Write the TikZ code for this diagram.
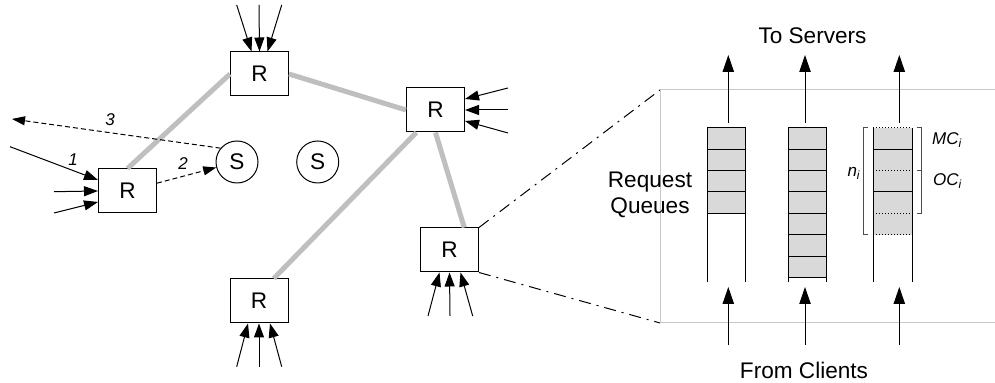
\documentclass[tikz,border=0pt]{standalone}
\usepackage{fontspec}
\setmainfont{Liberation Sans}
\usetikzlibrary{arrows.meta,calc}

\definecolor{linkgray}{gray}{0.75}
\definecolor{cellgray}{gray}{0.85}
\definecolor{boxgray}{gray}{0.78}

\tikzset{
  router/.style={draw,line width=0.5pt,fill=white,minimum width=29pt,minimum height=22pt,inner sep=0pt},
  server/.style={draw,line width=0.5pt,circle,minimum size=21pt,inner sep=0pt},
  feed/.style={line width=0.5pt,-{Triangle[length=7pt,width=5pt]}},
  link/.style={line width=2.5pt,linkgray},
  msg/.style={line width=0.5pt,dash pattern=on 2.5pt off 1.5pt,-{Triangle[length=6.5pt,width=4.5pt]}},
  zoomline/.style={line width=0.5pt,dash pattern=on 6pt off 3pt on 1pt off 3pt},
  flow/.style={line width=0.5pt,-{Triangle[length=8.5pt,width=5.7pt]}},
  steplabel/.style={font=\fontsize{8.5}{10}\selectfont\itshape},
  qlabel/.style={font=\fontsize{8.5}{10}\selectfont\itshape,inner sep=0pt},
}

\begin{document}
\begin{tikzpicture}[x=5pt,y=5pt,font=\fontsize{11.3}{13.3}\selectfont]
    \useasboundingbox (0,0) rectangle (99.5,38.3);

    % Left part: routers and servers
    \node[router] (leftR) at (12.75,19.2) {R};
    \node[router] (topR) at (25.95,30.9) {R};
    \node[router] (rtR) at (43.55,27.3) {R};
    \node[router] (blR) at (25.9,8.2) {R};
    \node[router] (rR) at (44.95,13.3) {R};
    \node[server] (S1) at (23.7,22.1) {S};
    \node[server] (S2) at (31.77,22.1) {S};

    \draw[link] (leftR.north) -- (topR.west);
    \draw[link] (topR.east) -- (rtR.west);
    \draw[link] ($(rtR.south west)!0.35!(rtR.south)$) -- ($(blR.north)!0.5!(blR.north east)$);
    \draw[link] (rtR.south) -- ($(rR.north)!0.5!(rR.north east)$);

    % incoming requests
    \coordinate (inL1) at (1.0,23.63);
    \coordinate (inL2) at (5.4,19.13);
    \coordinate (inL3) at (5.4,17.0);
    \draw[feed] (inL1) -- ([yshift=5.5pt]leftR.west);
    \draw[feed] (inL2) -- (leftR.west);
    \draw[feed] (inL3) -- ([yshift=-5.5pt]leftR.west);

    \coordinate (inT1) at (23.67,37.8);
    \coordinate (inT2) at (25.9,37.8);
    \coordinate (inT3) at (28.17,37.8);
    \draw[feed] (inT1) -- ([xshift=-4pt]topR.north);
    \draw[feed] (inT2) -- (topR.north);
    \draw[feed] (inT3) -- ([xshift=4pt]topR.north);

    \coordinate (inR1) at (50.8,29.5);
    \coordinate (inR2) at (50.8,27.3);
    \coordinate (inR3) at (50.8,25.0);
    \draw[feed] (inR1) -- ([yshift=5.5pt]rtR.east);
    \draw[feed] (inR2) -- (rtR.east);
    \draw[feed] (inR3) -- ([yshift=-5.5pt]rtR.east);

    \coordinate (inB1) at (23.67,1.63);
    \coordinate (inB2) at (25.9,1.63);
    \coordinate (inB3) at (28.17,1.63);
    \draw[feed] (inB1) -- ([xshift=-5.5pt]blR.south);
    \draw[feed] (inB2) -- (blR.south);
    \draw[feed] (inB3) -- ([xshift=5.5pt]blR.south);

    \coordinate (inQ1) at (42.8,6.7);
    \coordinate (inQ2) at (45.0,6.7);
    \coordinate (inQ3) at (47.27,6.7);
    \draw[feed] (inQ1) -- ([xshift=-5pt]rR.south);
    \draw[feed] (inQ2) -- (rR.south);
    \draw[feed] (inQ3) -- ([xshift=5.5pt]rR.south);

    % steps 1-3
    \coordinate (out3) at (1.2,26.4);
    \draw[msg] (leftR) -- (S1);
    \draw[msg] (S1.140) -- (out3);
    \node[steplabel] (lab1) at (7.3,22.3) {1};
    \node[steplabel] (lab2) at (18.3,21.9) {2};
    \node[steplabel] (lab3) at (11.0,26.3) {3};

    % Right part: zoom on the queues
    \coordinate (boxNW) at (66,29.3);
    \coordinate (boxSW) at (66,6.0);
    \draw[zoomline] (rR.north east) -- (boxNW);
    \draw[zoomline] (rR.south east) -- (boxSW);
    \draw[boxgray,line width=0.5pt] (99.5,29.3) -- (boxNW) -- (boxSW) -- (99.5,6.0);

    \node[align=center] (reqQ) at (65.0,18.8) {Request\\Queues};

    \draw[fill=cellgray,draw=none] (70.73,16.97) rectangle (74.57,25.53);
    \draw[line width=0.5pt] (70.73,25.53) -- (74.57,25.53) (70.73,23.39) -- (74.57,23.39)
        (70.73,21.25) -- (74.57,21.25) (70.73,19.11) -- (74.57,19.11) (70.73,16.97) -- (74.57,16.97);
    \draw[line width=0.5pt] (70.73,25.53) -- (70.73,10.13) (74.57,25.53) -- (74.57,10.13);

    \draw[fill=cellgray,draw=none] (78.83,10.55) rectangle (82.67,25.53);
    \draw[line width=0.5pt] (78.83,25.53) -- (82.67,25.53) (78.83,23.39) -- (82.67,23.39)
        (78.83,21.25) -- (82.67,21.25) (78.83,19.11) -- (82.67,19.11) (78.83,16.97) -- (82.67,16.97)
        (78.83,14.83) -- (82.67,14.83) (78.83,12.69) -- (82.67,12.69) (78.83,10.55) -- (82.67,10.55);
    \draw[line width=0.5pt] (78.83,25.53) -- (78.83,10.13) (82.67,25.53) -- (82.67,10.13);

    \draw[fill=cellgray,draw=none] (87.33,14.83) rectangle (91.23,25.53);
    \draw[line width=0.5pt] (87.33,23.39) -- (91.23,23.39) (87.33,19.11) -- (91.23,19.11);
    \draw[line width=0.5pt,densely dotted] (87.33,25.53) -- (91.23,25.53) (87.33,21.25) -- (91.23,21.25)
        (87.33,16.97) -- (91.23,16.97) (87.33,14.83) -- (91.23,14.83);
    \draw[line width=0.5pt] (87.33,25.53) -- (87.33,10.13) (91.23,25.53) -- (91.23,10.13);

    % brackets
    \draw[line width=0.5pt,black!70] (86.8,25.53) -- (86.33,25.53) -- (86.33,14.83) -- (86.8,14.83);
    \draw[line width=0.5pt,black!70] (91.67,25.53) -- (92.17,25.53) -- (92.17,16.97) -- (91.67,16.97)
        (92.17,21.25) -- (91.67,21.25);
    \node[qlabel,anchor=east] (ni) at (86.1,21.0) {n\textsubscript{i}};
    \node[qlabel,anchor=west] (mci) at (93.17,24.3) {MC\textsubscript{i}};
    \node[qlabel,anchor=west] (oci) at (93.27,20.2) {OC\textsubscript{i}};

    % to servers / from clients
    \coordinate (q1top) at (72.83,26.0);
    \coordinate (q2top) at (80.5,26.0);
    \coordinate (q3top) at (89.93,26.0);
    \coordinate (q1out) at (72.83,32.8);
    \coordinate (q2out) at (80.5,32.8);
    \coordinate (q3out) at (89.93,32.8);
    \draw[flow] (q1top) -- (q1out);
    \draw[flow] (q2top) -- (q2out);
    \draw[flow] (q3top) -- (q3out);
    \node (toS) at (81.25,34.7) {To Servers};

    \coordinate (q1in) at (72.83,3.8);
    \coordinate (q2in) at (80.5,3.8);
    \coordinate (q3in) at (89.93,3.8);
    \coordinate (q1bot) at (72.83,9.6);
    \coordinate (q2bot) at (80.5,9.6);
    \coordinate (q3bot) at (89.93,9.6);
    \draw[flow] (q1in) -- (q1bot);
    \draw[flow] (q2in) -- (q2bot);
    \draw[flow] (q3in) -- (q3bot);
    \node (fromC) at (80.4,1.3) {From Clients};
\end{tikzpicture}
\end{document}
